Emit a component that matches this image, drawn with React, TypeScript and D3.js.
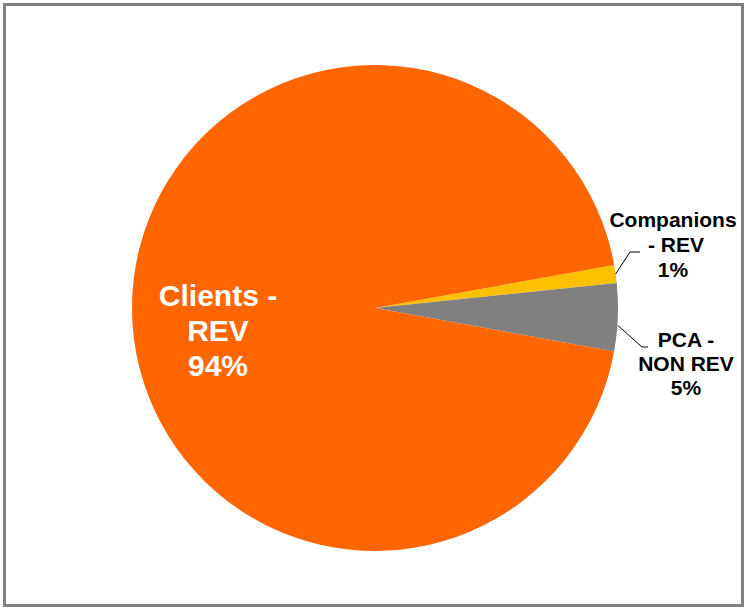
import React from "react";
import * as d3 from "d3";

const categories = ["Companions - REV", "PCA - NON REV", "Clients - REV"];
const values = [1.2, 4.5, 94.3];
const percentLabels = ["1%", "5%", "94%"];
const colors = ["#FFC000", "#808080", "#FF6600"];

const W = 746;
const H = 609;
const cx = 375;
const cy = 308;
const R = 243;
const startDeg = 79.8;

export default function App() {
  const pie = d3
    .pie<number>()
    .sort(null)
    .value((d) => d)
    .startAngle((startDeg * Math.PI) / 180)
    .endAngle((startDeg * Math.PI) / 180 + 2 * Math.PI);
  const arcs = pie(values);
  const arc = d3.arc<d3.PieArcDatum<number>>().innerRadius(0).outerRadius(R);

  const edge = (a: d3.PieArcDatum<number>) => {
    const m = (a.startAngle + a.endAngle) / 2;
    return [cx + R * Math.sin(m), cy - R * Math.cos(m)];
  };

  const e0 = edge(arcs[0]);
  const e1 = edge(arcs[1]);
  const line = d3.line();

  return (
    <svg
      width={W}
      height={H}
      style={{ position: "absolute", left: 0, top: 0, background: "#fff" }}
      fontFamily="Liberation Sans, Arial, sans-serif"
    >
      <rect x={4.5} y={4.5} width={738} height={601} fill="#fff" stroke="#808080" strokeWidth={3} />
      <g transform={`translate(${cx},${cy})`}>
        {arcs.map((a, i) => (
          <path key={categories[i]} d={arc(a) || ""} fill={colors[i]} />
        ))}
      </g>
      {/* Clients label */}
      <text fill="#fff" fontWeight="bold" fontSize={30} textAnchor="middle">
        <tspan x={218} y={306}>Clients -</tspan>
        <tspan x={218} y={341}>REV</tspan>
        <tspan x={218} y={376}>{percentLabels[2]}</tspan>
      </text>
      {/* Companions label */}
      <path
        d={line([[e0[0], e0[1]], [630, 252], [640, 252]]) || ""}
        fill="none"
        stroke="#000"
        strokeWidth={1}
      />
      <text fill="#000" fontWeight="bold" fontSize={21} textAnchor="middle">
        <tspan x={673} y={227}>Companions</tspan>
        <tspan x={676} y={252}>- REV</tspan>
        <tspan x={673} y={277}>{percentLabels[0]}</tspan>
      </text>
      {/* PCA label */}
      <path
        d={line([[e1[0], e1[1] + 8], [642, 347], [648, 347]]) || ""}
        fill="none"
        stroke="#000"
        strokeWidth={1}
      />
      <text fill="#000" fontWeight="bold" fontSize={21} textAnchor="middle">
        <tspan x={686} y={347}>PCA -</tspan>
        <tspan x={686} y={371}>NON REV</tspan>
        <tspan x={686} y={395}>{percentLabels[1]}</tspan>
      </text>
    </svg>
  );
}
